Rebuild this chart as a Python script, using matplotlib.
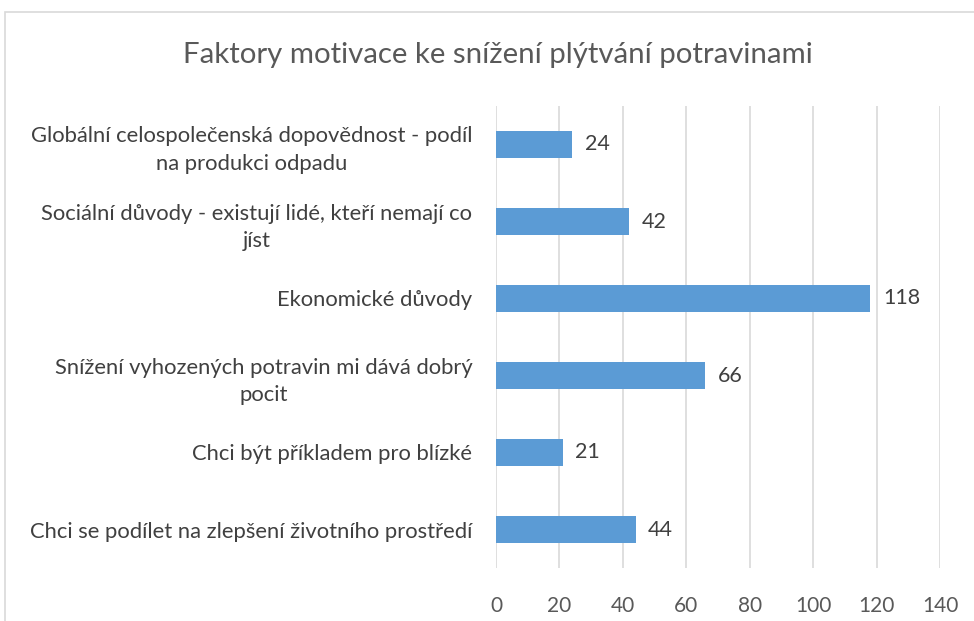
import matplotlib
matplotlib.use("Agg")
import matplotlib.pyplot as plt
from matplotlib.patches import Rectangle

plt.rcParams['font.family'] = ['Lato', 'DejaVu Sans']

title = "Faktory motivace ke snížení plýtvání potravinami"
categories = [
    "Globální celospolečenská dopovědnost - podíl\nna produkci odpadu",
    "Sociální důvody - existují lidé, kteří nemají co\njíst",
    "Ekonomické důvody",
    "Snížení vyhozených potravin mi dává dobrý\npocit",
    "Chci být příkladem pro blízké",
    "Chci se podílet na zlepšení životního prostředí",
]
values = [24, 42, 118, 66, 21, 44]
xticks = [0, 20, 40, 60, 80, 100, 120, 140]

bar_color = "#5B9BD5"
text_gray = "#595959"

fig = plt.figure(figsize=(9.74, 6.21), dpi=100)
fig.patches.append(Rectangle((5 / 974, -0.01), 1.1, 1 - 12 / 621 + 0.01, transform=fig.transFigure,
                             fill=False, edgecolor="#D9D9D9", linewidth=1.2))

ax = fig.add_axes([496 / 974, 53 / 621, 444 / 974, 462 / 621])
ypos = list(range(len(categories)))[::-1]
ax.barh(ypos, values, height=0.34, color=bar_color, zorder=3)

for y, v in zip(ypos, values):
    ax.text(v + 4, y, str(v), va="center", ha="left", fontsize=15.5, color="#404040")

ax.set_xlim(0, 140)
ax.set_ylim(-0.5, len(categories) - 0.5)
ax.set_xticks(xticks)
ax.set_xticklabels([str(t) for t in xticks], fontsize=15, color=text_gray)
ax.set_yticks(ypos)
ax.set_yticklabels(categories, fontsize=15.8, color="#404040", multialignment="center",
                   linespacing=1.45)
ax.tick_params(axis="both", length=0)
ax.tick_params(axis="x", pad=20)
ax.tick_params(axis="y", pad=17)
ax.grid(axis="x", color="#D9D9D9", linewidth=1.2, zorder=0)
for s in ax.spines.values():
    s.set_visible(False)

fig.text(498 / 974, 1 - 55 / 621, title, ha="center", va="center", fontsize=21.2, color=text_gray)

fig.savefig("out.png", dpi=100)
